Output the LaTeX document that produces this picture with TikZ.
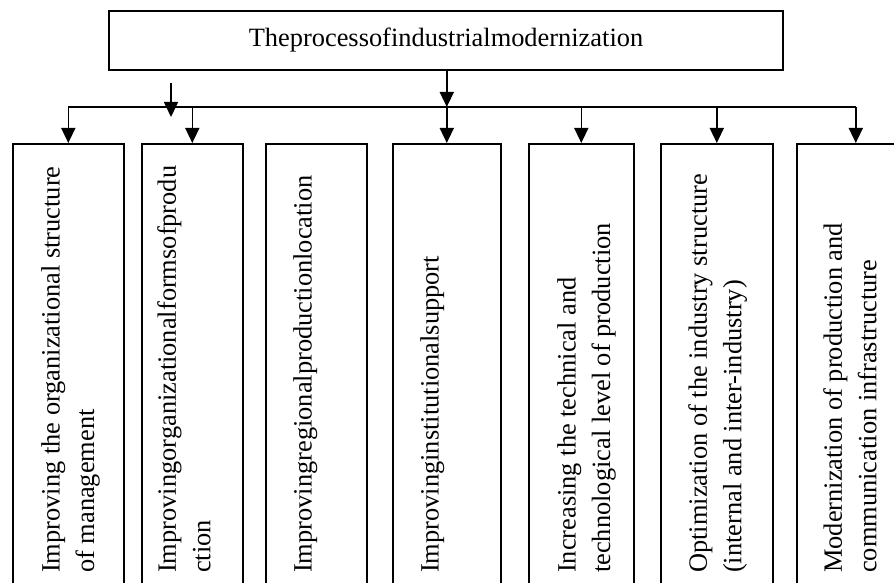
\documentclass[tikz,border=0pt]{standalone}
\usepackage{fontspec}
\setmainfont{Liberation Serif}
\usetikzlibrary{arrows.meta}
\begin{document}
\begin{tikzpicture}[x=1pt,y=-1pt,
  box/.style={draw=black, line width=1.6pt, inner sep=0pt, anchor=north west, minimum height=500pt},
  conn/.style={line width=1.6pt},
  arr/.style={line width=1.6pt, -{Triangle[length=15pt,width=14pt]}},
  vtext/.style={rotate=90, anchor=north west, inner sep=0pt, align=left, font=\fontsize{26.4}{34.5}\selectfont}]
\clip (0,0) rectangle (894,583);
% top box
\node[draw=black, line width=1.6pt, minimum width=674pt, minimum height=59pt, inner sep=0pt,
  font=\fontsize{26.4}{34.5}\selectfont] (top) at (446,40.5) {Theprocessofindustrialmodernization};
% boxes
\node[box, minimum width=111pt] (b1) at (12,143) {};
\node[box, minimum width=101pt] (b2) at (141,143) {};
\node[box, minimum width=101pt] (b3) at (265,143) {};
\node[box, minimum width=108pt] (b4) at (392,143) {};
\node[box, minimum width=105pt] (b5) at (528,143) {};
\node[box, minimum width=112pt] (b6) at (660,143) {};
\node[box, minimum width=118pt] (b7) at (796,143) {};
% texts
\node[vtext] (t1) at (41,573) {Improving the organizational structure\\of management};
\node[vtext] (t2) at (157,573) {Improvingorganizationalformsofprodu\\ction};
\node[vtext] (t3) at (293,573) {Improvingregionalproductionlocation};
\node[vtext] (t4) at (420,573) {Improvinginstitutionalsupport};
\node[vtext] (t5) at (557,573) {Increasing the technical and\\technological level of production};
\node[vtext] (t6) at (688,573) {Optimization of the industry structure\\(internal and inter-industry)};
\node[vtext] (t7) at (823,573) {Modernization of production and\\communication infrastructure};
% connectors
\coordinate (busL) at (b1.north |- 0,107);
\coordinate (busR) at (b7.north |- 0,107);
\coordinate (j) at (b4.north |- 0,107);
\draw[conn] (busL) -- (busR);
\draw[arr] (top.south -| j) -- (j);
\draw[arr] (j) -- (b4.north);
\draw[arr] (busL) -- (b1.north);
\draw[arr] (b2.north |- j) -- (b2.north);
\draw[arr] (b5.north |- j) -- (b5.north);
\draw[arr] (b6.north |- j) -- (b6.north);
\draw[arr] (busR) -- (b7.north);
\coordinate (s1) at (171,83);
\coordinate (s2) at (171,117);
\draw[arr] (s1) -- (s2);
\end{tikzpicture}
\end{document}
